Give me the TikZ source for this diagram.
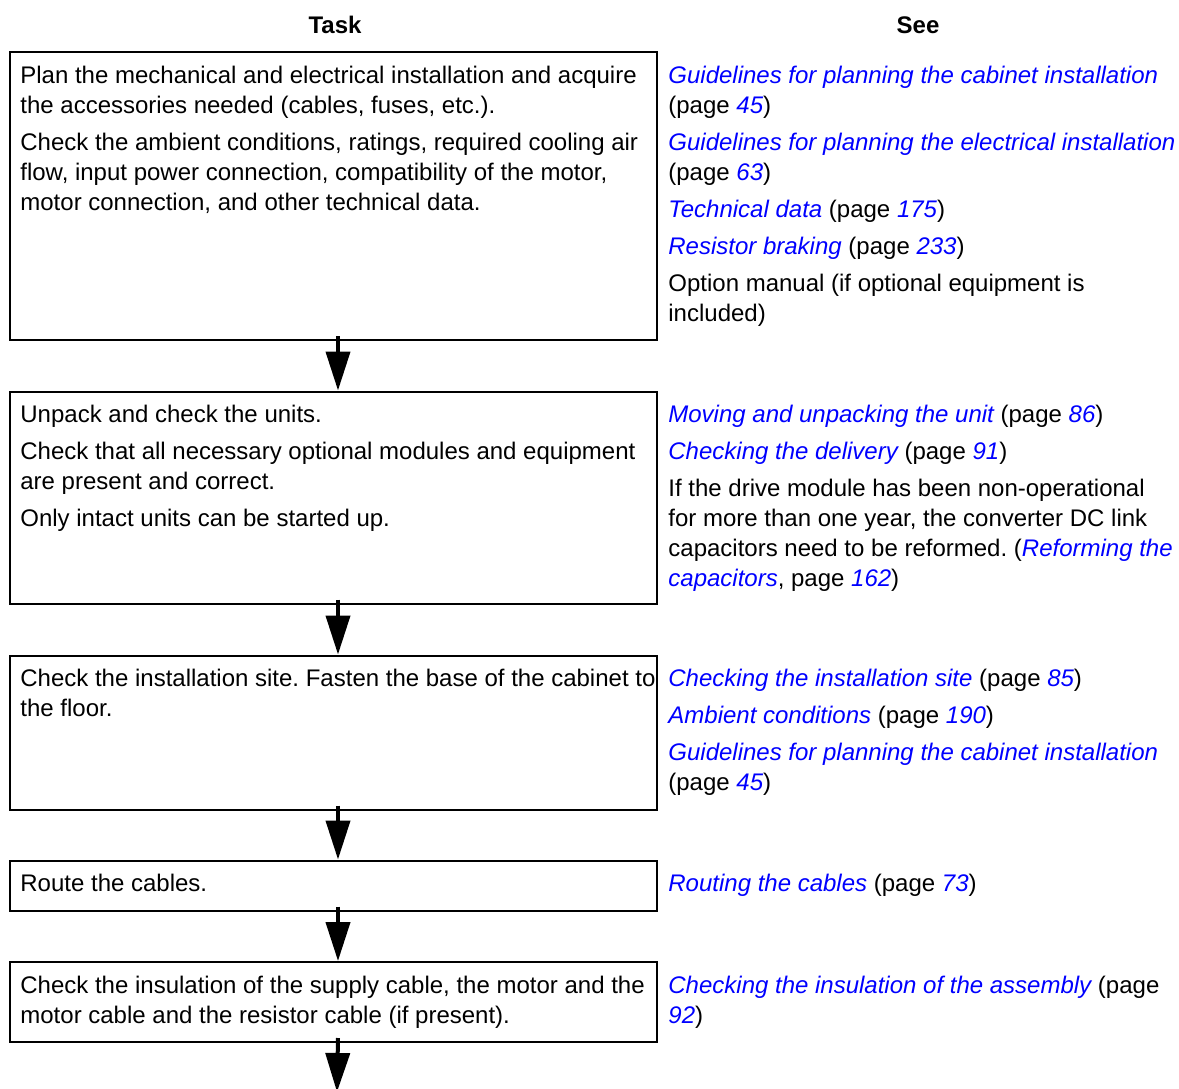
\documentclass[tikz,border=0pt]{standalone}
\usepackage{fontspec}
\setmainfont{Liberation Sans}
\usetikzlibrary{arrows.meta}
\definecolor{linkblue}{RGB}{0,0,255}
\newcommand{\seeref}[1]{{\color{linkblue}\itshape #1}}
\frenchspacing

\begin{document}
\begin{tikzpicture}[x=0.5pt,y=-0.5pt,
        taskbox/.style={draw,line width=1pt,anchor=north west,minimum width=323.5pt,inner sep=0pt},
        txt/.style={anchor=north west,inner sep=0pt,align=left,font=\fontsize{12}{15}\selectfont,
            execute at begin node=\strut},
        head/.style={anchor=base,inner sep=0pt,font=\fontsize{12}{15}\selectfont\bfseries},
        flow/.style={line width=2pt,-{Triangle[width=12pt,length=19.5pt]}}]
    \useasboundingbox (0,0) rectangle (1179,1088);
    % headings
    \node[head] (task) at (335,33) {Task};
    \node[head] (see) at (918,33) {See};
    % boxes
    \node[taskbox,minimum height=144pt] (plan) at (9,51) {};
    \node[taskbox,minimum height=106pt] (unpack) at (9,390.5) {};
    \node[taskbox,minimum height=77pt] (site) at (9,654.5) {};
    \node[taskbox,minimum height=25pt] (route) at (9,859.5) {};
    \node[taskbox,minimum height=40pt] (insul) at (9,961) {};
    \coordinate (next) at (337,1092);
    % task texts (top = first baseline - 21)
    \node[txt] (plantxt) at (20,66) {Plan the mechanical and electrical installation and acquire\\
        the accessories needed (cables, fuses, etc.).\\[3.5pt]
        Check the ambient conditions, ratings, required cooling air\\
        flow, input power connection, compatibility of the motor,\\
        motor connection, and other technical data.};
    \node[txt] (unpacktxt) at (20,405) {Unpack and check the units.\\[3.5pt]
        Check that all necessary optional modules and equipment\\
        are present and correct.\\[3.5pt]
        Only intact units can be started up.};
    \node[txt] (sitetxt) at (20,669) {Check the installation site. Fasten the base of the cabinet to\\
        the floor.};
    \node[txt] (routetxt) at (20,870) {Route the cables.};
    \node[txt] (insultxt) at (20,976) {Check the insulation of the supply cable, the motor and the\\
        motor cable and the resistor cable (if present).};
    % references
    \node[txt] (planref) at (668,66) {\seeref{Guidelines for planning the cabinet installation}\\
        (page \seeref{45})\\[3.5pt]
        \seeref{Guidelines for planning the electrical installation}\\
        (page \seeref{63})\\[3.5pt]
        \seeref{Technical data} (page \seeref{175})\\[3.5pt]
        \seeref{Resistor braking} (page \seeref{233})\\[3.5pt]
        Option manual (if optional equipment is\\
        included)};
    \node[txt] (unpackref) at (668,405) {\seeref{Moving and unpacking the unit} (page \seeref{86})\\[3.5pt]
        \seeref{Checking the delivery} (page \seeref{91})\\[3.5pt]
        If the drive module has been non-operational\\
        for more than one year, the converter DC link\\
        capacitors need to be reformed. (\seeref{Reforming the}\\
        \seeref{capacitors}, page \seeref{162})};
    \node[txt] (siteref) at (668,669) {\seeref{Checking the installation site} (page \seeref{85})\\[3.5pt]
        \seeref{Ambient conditions} (page \seeref{190})\\[3.5pt]
        \seeref{Guidelines for planning the cabinet installation}\\
        (page \seeref{45})};
    \node[txt] (routeref) at (668,870) {\seeref{Routing the cables} (page \seeref{73})};
    \node[txt] (insulref) at (668,976) {\seeref{Checking the insulation of the assembly} (page\\
        \seeref{92})};
    % arrows
    \draw[flow] ([xshift=2.25pt,yshift=2.5pt]plan.south) -- ([xshift=2.25pt]unpack.north);
    \draw[flow] ([xshift=2.25pt,yshift=2.5pt]unpack.south) -- ([xshift=2.25pt]site.north);
    \draw[flow] ([xshift=2.25pt,yshift=2.5pt]site.south) -- ([xshift=2.25pt]route.north);
    \draw[flow] ([xshift=2.25pt,yshift=2.5pt]route.south) -- ([xshift=2.25pt]insul.north);
    \draw[flow] ([xshift=2.25pt,yshift=2.5pt]insul.south) -- (next);
\end{tikzpicture}
\end{document}
